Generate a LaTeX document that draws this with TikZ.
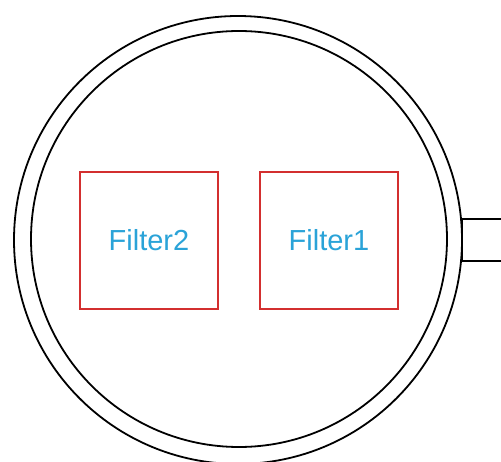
\documentclass[tikz,border=0pt]{standalone}
\usepackage{fontspec}
\setmainfont{Liberation Sans}
\definecolor{boxred}{HTML}{D32F2F}
\definecolor{txtblue}{HTML}{2AA3D8}
\begin{document}
\begin{tikzpicture}[x=1pt,y=-1pt,
  ring/.style={draw=black,line width=1.8pt},
  filterbox/.style={draw=boxred,line width=2.2pt,minimum width=138pt,minimum height=137pt,
    inner sep=0pt,text=txtblue,font=\fontsize{29}{34}\selectfont},
]
\useasboundingbox (0,0) rectangle (501,462);
\clip (0,0) rectangle (501,462);
\fill[white] (0,0) rectangle (501,462);
\draw[ring] (238,240) circle (224);
\draw[ring] (239,239) circle (208);
\draw[ring] (462,219) rectangle (520,261);
\node[filterbox] (f2) at (149,240.5) {Filter2};
\node[filterbox] (f1) at (329,240.5) {Filter1};
\end{tikzpicture}
\end{document}
